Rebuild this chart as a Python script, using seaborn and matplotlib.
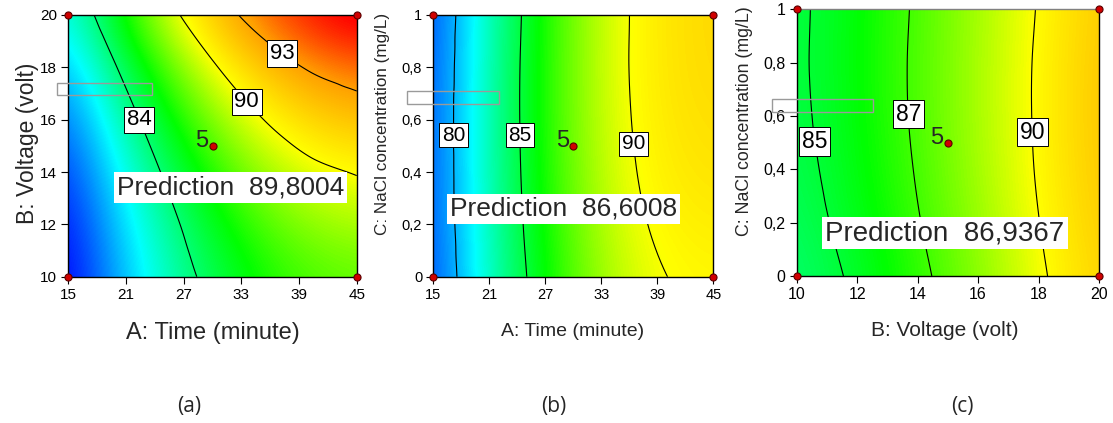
import numpy as np
import pandas as pd
import seaborn as sns
import matplotlib
matplotlib.use("Agg")
import matplotlib.pyplot as plt
import matplotlib.tri as mtri
from matplotlib.colors import LinearSegmentedColormap
from matplotlib.patches import Rectangle

# ---------------- data ----------------
time_min = [15, 20, 25, 30, 35, 40, 45]
voltage_v = [10, 12, 14, 16, 18, 20]
nacl_mgL = [0.0, 0.2, 0.4, 0.6, 0.8, 1.0]

# (a) rows = voltage, cols = time
yield_time_voltage = [
    [76.46, 79.77, 82.50, 84.63, 86.16, 87.11, 87.46],
    [76.94, 80.37, 83.21, 85.45, 87.11, 88.17, 88.63],
    [77.72, 81.27, 84.22, 86.58, 88.35, 89.53, 90.11],
    [78.80, 82.46, 85.54, 88.01, 89.90, 91.19, 91.89],
    [80.18, 83.96, 87.15, 89.74, 91.74, 93.15, 93.97],
    [81.87, 85.76, 89.07, 91.78, 93.89, 95.42, 96.35],
]
# (b) rows = NaCl, cols = time
yield_time_nacl = [
    [78.00, 81.86, 84.99, 87.39, 89.05, 89.99, 90.18],
    [78.16, 82.05, 85.21, 87.64, 89.34, 90.30, 90.53],
    [78.23, 82.16, 85.36, 87.82, 89.55, 90.55, 90.81],
    [78.24, 82.20, 85.43, 87.92, 89.68, 90.71, 91.00],
    [78.16, 82.15, 85.42, 87.94, 89.74, 90.80, 91.13],
    [78.01, 82.04, 85.33, 87.89, 89.72, 90.81, 91.17],
]
# (c) rows = NaCl, cols = voltage
yield_voltage_nacl = [
    [84.04, 85.29, 86.66, 88.15, 89.75, 91.47],
    [84.34, 85.57, 86.92, 88.39, 89.97, 91.68],
    [84.55, 85.77, 87.10, 88.55, 90.12, 91.80],
    [84.70, 85.89, 87.21, 88.64, 90.18, 91.85],
    [84.76, 85.94, 87.23, 88.64, 90.17, 91.82],
    [84.74, 85.90, 87.18, 88.57, 90.08, 91.71],
]

levels_a = [84, 90, 93]
levels_b = [80, 85, 90]
levels_c = [85, 87, 90]

prediction_a = "89,8004"
prediction_b = "86,6008"
prediction_c = "86,9367"

time_ticks = [15, 21, 27, 33, 39, 45]
voltage_ticks = [10, 12, 14, 16, 18, 20]
nacl_ticks = [0, 0.2, 0.4, 0.6, 0.8, 1]
nacl_ticklabels = ["0", "0,2", "0,4", "0,6", "0,8", "1"]

# design points (factorial corners + centre, 5 replicates at centre)
design_time = [15, 15, 45, 45, 30]
design_voltage = [10, 20, 10, 20, 15]
design_nacl = [0, 1, 0, 1, 0.5]
design_voltage_c = [10, 10, 20, 20, 15]
design_nacl_c = [0, 1, 0, 1, 0.5]
center_replicates = "5"

# ---------------- style ----------------
sns.set_style("ticks")
plt.rcParams["font.family"] = ["Liberation Sans", "DejaVu Sans"]
plt.rcParams["xtick.direction"] = "out"
plt.rcParams["ytick.direction"] = "out"

VMIN, VMAX = 76.5, 95.8


def frac(v):
    return (v - VMIN) / (VMAX - VMIN)


cmap = LinearSegmentedColormap.from_list(
    "de",
    [(0.0, "#0000ff"), (frac(81.5), "#00ffff"), (frac(86.0), "#00ff00"),
     (frac(90.0), "#ffff00"), (frac(93.0), "#ffa000"), (1.0, "#ff0000")])

fig = plt.figure(figsize=(11.13, 4.23), dpi=100)

ax_a = fig.add_axes([0.0614, 0.3459, 0.2591, 0.6187])
ax_b = fig.add_axes([0.3893, 0.3459, 0.2516, 0.6187])
ax_c = fig.add_axes([0.7158, 0.3475, 0.2716, 0.6305])


def surface(ax, x, y, Z, levels, label_pos, label_fs):
    x = np.asarray(x, float)
    y = np.asarray(y, float)
    Z = np.asarray(Z, float)
    dx = x[1] - x[0]
    dy = y[1] - y[0]
    ax.imshow(Z, origin="lower", cmap=cmap, vmin=VMIN, vmax=VMAX,
              extent=[x[0] - dx / 2, x[-1] + dx / 2, y[0] - dy / 2, y[-1] + dy / 2],
              interpolation="bicubic", aspect="auto", zorder=0)
    # smooth contour lines: matplotlib's cubic triangulation refiner
    sx = x[-1] - x[0]
    sy = y[-1] - y[0]
    X, Y = np.meshgrid((x - x[0]) / sx, (y - y[0]) / sy)
    tri = mtri.Triangulation(X.ravel(), Y.ravel())
    interp = mtri.CubicTriInterpolator(tri, Z.ravel(), kind="geom")
    tri_f, z_f = mtri.UniformTriRefiner(tri).refine_field(
        Z.ravel(), triinterpolator=interp, subdiv=4)
    tri_d = mtri.Triangulation(tri_f.x * sx + x[0], tri_f.y * sy + y[0], tri_f.triangles)
    cs = ax.tricontour(tri_d, z_f, levels=levels, colors="black", linewidths=0.8, zorder=2)
    labs = ax.clabel(cs, fmt="%d", manual=label_pos, inline=False, fontsize=label_fs)
    for t in labs:
        t.set_rotation(0)
        t.set_bbox(dict(boxstyle="square,pad=0.12", fc="white", ec="black", lw=0.7))
        t.set_zorder(4)
    ax.set_xlim(x[0], x[-1])
    ax.set_ylim(y[0], y[-1])


surface(ax_a, time_min, voltage_v, yield_time_voltage, levels_a,
        [(21.6, 15.86), (33.2, 16.56), (37.5, 18.66)], 16)
surface(ax_b, time_min, nacl_mgL, yield_time_nacl, levels_b,
        [(16.96, 0.541), (24.18, 0.541), (36.43, 0.507)], 15)
surface(ax_c, voltage_v, nacl_mgL, yield_voltage_nacl, levels_c,
        [(10.61, 0.504), (13.72, 0.6075), (17.75, 0.539)], 16.5)

# design points
for ax, dx_, dy_ in [(ax_a, design_time, design_voltage),
                     (ax_b, design_time, design_nacl),
                     (ax_c, design_voltage_c, design_nacl_c)]:
    sns.scatterplot(x=dx_, y=dy_, ax=ax, color="#d00000", edgecolor="#5a0000",
                    linewidth=0.8, s=26, clip_on=False, zorder=6, legend=False)
    ax.annotate(center_replicates, xy=(dx_[-1], dy_[-1]), xytext=(-3, -1),
                textcoords="offset points", ha="right", va="baseline",
                fontsize=17, zorder=6)

# prediction boxes
pred_box = dict(boxstyle="square,pad=0.12", fc="white", ec="none")
ax_a.text(20.07, 13.41, "Prediction  " + prediction_a, fontsize=19,
          ha="left", va="center", bbox=pred_box, zorder=5)
ax_b.text(16.79, 0.2587, "Prediction  " + prediction_b, fontsize=19,
          ha="left", va="center", bbox=pred_box, zorder=5)
ax_c.text(10.94, 0.161, "Prediction  " + prediction_c, fontsize=20,
          ha="left", va="center", bbox=pred_box, zorder=5)

# grey flag rectangles
for ax, (x0, y0, w, h) in [(ax_a, (13.8, 16.94, 9.9, 0.46)),
                           (ax_b, (12.21, 0.661, 9.86, 0.049)),
                           (ax_c, (9.19, 0.615, 3.32, 0.0475))]:
    ax.add_patch(Rectangle((x0, y0), w, h, fill=False, ec="#9a9a9a", lw=1.0,
                           clip_on=False, zorder=7))

# axes, ticks, labels
ax_a.set_xticks(time_ticks)
ax_a.set_yticks(voltage_ticks)
ax_b.set_xticks(time_ticks)
ax_b.set_yticks(nacl_ticks)
ax_b.set_yticklabels(nacl_ticklabels)
ax_c.set_xticks(voltage_ticks)
ax_c.set_yticks(nacl_ticks)
ax_c.set_yticklabels(nacl_ticklabels)

for ax, fs in [(ax_a, 11), (ax_b, 10.5), (ax_c, 11.5)]:
    ax.tick_params(axis="both", length=5, width=0.8, colors="black",
                   labelsize=fs, pad=3)
    for s in ax.spines.values():
        s.set_linewidth(1.0)
        s.set_color("black")
        s.set_visible(True)
ax_c.spines["top"].set_color("#808080")

ax_a.set_xlabel("A: Time (minute)", fontsize=17)
ax_a.set_ylabel("B: Voltage (volt)", fontsize=16.5)
ax_b.set_xlabel("A: Time (minute)", fontsize=14)
ax_b.set_ylabel("C: NaCl concentration (mg/L)", fontsize=12.3)
ax_c.set_xlabel("B: Voltage (volt)", fontsize=15)
ax_c.set_ylabel("C: NaCl concentration (mg/L)", fontsize=12.8)

ax_a.xaxis.set_label_coords(0.5, -0.215)
ax_b.xaxis.set_label_coords(0.497, -0.21)
ax_c.xaxis.set_label_coords(0.49, -0.205)
ax_a.yaxis.set_label_coords(-0.14, 0.509)
ax_b.yaxis.set_label_coords(-0.18, 0.583)
ax_c.yaxis.set_label_coords(-0.171, 0.581)
for ax in (ax_a, ax_b, ax_c):
    ax.xaxis.label.set_va("center")
    ax.yaxis.label.set_va("center")

panel_tags = ["(a)", "(b)", "(c)"]
tag_x = [189, 554, 962]
for tag, px in zip(panel_tags, tag_x):
    fig.text(px / 1113, 1 - 406 / 423, tag, fontsize=15, ha="center", va="center",
             family=["Open Sans", "DejaVu Sans"])

fig.savefig("out.png", dpi=100)
